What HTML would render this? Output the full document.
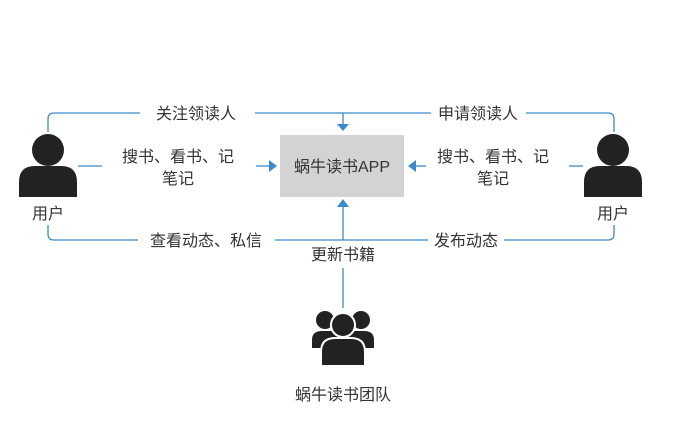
<!DOCTYPE html>
<html><head><meta charset="utf-8"><style>
html,body{margin:0;padding:0;background:#fff;}
svg text{font-family:"Liberation Sans","Noto Sans CJK SC",sans-serif;fill:#333;font-size:16px;}
</style></head><body>
<svg width="673" height="430" viewBox="0 0 673 430" xmlns="http://www.w3.org/2000/svg">
<g fill="none" stroke="#3b8ac9" stroke-width="1.3">
<path d="M48 132 V119 Q48 113 54 113 H140"/>
<path d="M255 113 H431"/>
<path d="M526 113 H608 Q614 113 614 119 V132"/>
<path d="M343 113 V124"/>
<path d="M48 225 V234 Q48 240 54 240 H138"/>
<path d="M275 240 H428"/>
<path d="M504 240 H608 Q614 240 614 234 V225"/>
<path d="M343 240 V207"/>
<path d="M343 268 V308"/>
<path d="M78 166 H102"/>
<path d="M256 166 H269"/>
<path d="M426 166 H416"/>
<path d="M569 166 H583"/>
</g>
<g fill="#3b8ac9">
<polygon points="337,124 349,124 343,131"/>
<polygon points="337,207 349,207 343,199"/>
<polygon points="269,160 269,172 277,166"/>
<polygon points="416,160 416,172 408,166"/>
</g>
<rect x="280" y="135" width="124" height="62" fill="#d3d3d3"/>
<text x="342" y="172" text-anchor="middle" font-size="17">蜗牛读书APP</text>
<g fill="#222">
<circle cx="48" cy="150" r="16"/>
<path d="M19 197 V182 Q19 166 35 166 H61 Q77 166 77 182 V197 Z"/>
<circle cx="613" cy="150" r="16"/>
<path d="M584 197 V182 Q584 166 600 166 H626 Q642 166 642 182 V197 Z"/>
<circle cx="325" cy="320" r="9"/>
<circle cx="361" cy="320" r="9"/>
<path d="M312 348 V340 Q312 331 322 331 H364 Q374 331 374 340 V348 Z"/>
<circle cx="343" cy="325" r="12" stroke="#fff" stroke-width="2"/>
<path d="M321 366 V352 Q321 338 335 338 H351 Q365 338 365 352 V366 Z" stroke="#fff" stroke-width="2"/>
</g>
<text x="48" y="219" text-anchor="middle">用户</text>
<text x="613" y="219" text-anchor="middle">用户</text>
<text x="196" y="119" text-anchor="middle">关注领读人</text>
<text x="478" y="119" text-anchor="middle">申请领读人</text>
<text x="178" y="162" text-anchor="middle">搜书、看书、记</text>
<text x="178" y="184" text-anchor="middle">笔记</text>
<text x="493" y="162" text-anchor="middle">搜书、看书、记</text>
<text x="493" y="184" text-anchor="middle">笔记</text>
<text x="206" y="246" text-anchor="middle">查看动态、私信</text>
<text x="466" y="246" text-anchor="middle">发布动态</text>
<text x="343" y="260" text-anchor="middle">更新书籍</text>
<text x="343" y="400" text-anchor="middle" font-size="17">蜗牛读书团队</text>
</svg>
</body></html>
